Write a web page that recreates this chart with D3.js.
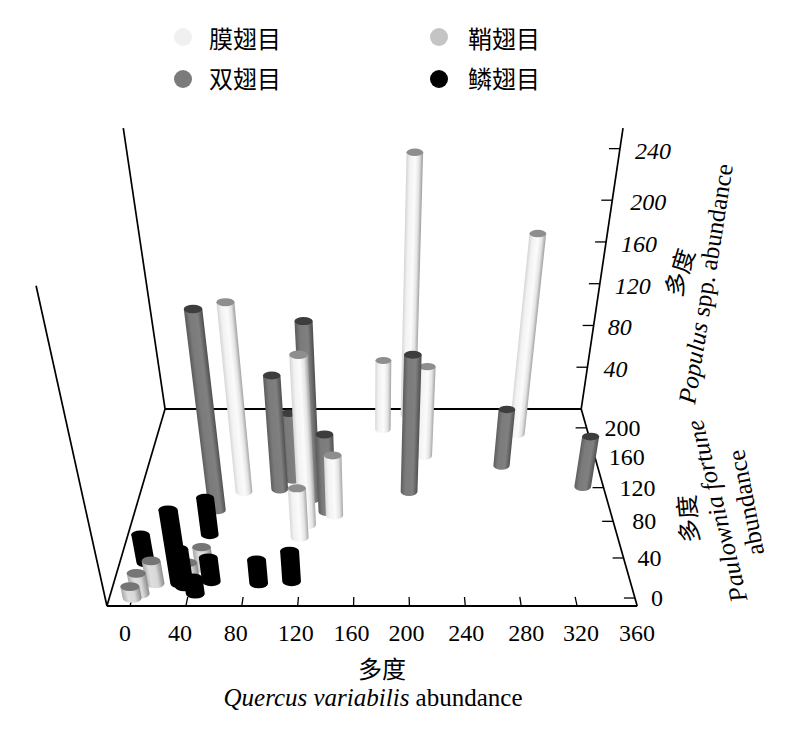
<!DOCTYPE html>
<html lang="zh">
<head>
<meta charset="utf-8">
<script src="https://cdn.jsdelivr.net/npm/d3@7"></script>
<style>
html,body{margin:0;padding:0;background:#fff}
svg{display:block}
text{fill:#000;font-family:"Liberation Serif",serif}
.cjk{font-family:"Noto Sans CJK SC",sans-serif;font-weight:400}
</style>
</head>
<body>
<svg id="c" width="800" height="734" viewBox="0 0 800 734"></svg>
<script>
// ---- data (abundance) ----
const seriesNames = ["膜翅目","鞘翅目","双翅目","鳞翅目"];

const hymX = [68,122,117,143,205,300,182,217];
const hymY = [115,76,62,87,219,191,198,161];
const hymZ = [173,153,44,54,241,189,65,83];

const colX = [14,5,0,48,41];
const colY = [14,4,0,29,11];
const colZ = [20,18,10,19,21];

const dipX = [49,124,97,107,137,203,282,346];
const dipY = [93,106,118,130,91,115,148,121];
const dipZ = [182,162,104,61,70,125,52,46];

const lepX = [3,32,36,45,47,55,90,114];
const lepY = [35,14,11,4,65,16,14,16];
const lepZ = [25,65,33,14,33,21,21,27];

const xTickValues = [0,40,80,120,160,200,240,280,320,360];
const depthTickValues = [0,40,80,120,160,200];
const heightTickValues = [40,80,120,160,200,240];

// ---- layout ----
const xLabelNudge = [-5,-6,-6,-2,-2,-3,1,5,4,4];
const depthLabelNudge = [22,26,31,34,32,36];
const heightLabelNudge = [28,26,33,33,36,33];

const xScale = d3.scaleLinear().domain([0,360]).range([130,633]);
const invDepth = d3.scaleLinear().domain([0,200]).range([.0011013,.0013553]);
const rise = d3.scaleLinear().domain([0,200,240]).range([0,.19,.2369]);
const horizonY = -310, vpX = 377, nadirX = 373, nadirY = 1809, frontSpan = 916;
const xMin = -16.5, xMax = 363, yMin = -7.6, yMax = 228;

function project(x,y,z){
  const u = 1/invDepth(y), s = u/frontSpan;
  const fx = vpX+(xScale(x)-vpX)*s, fy = horizonY+u;
  const f = s*rise(z);
  return [nadirX+(fx-nadirX)*(1+f), nadirY+(fy-nadirY)*(1+f), s, f];
}

const svg = d3.select("#c");
const defs = svg.append("defs");
defs.append("filter").attr("id","soft").attr("x","-40%").attr("y","-10%").attr("width","180%").attr("height","120%")
  .append("feGaussianBlur").attr("stdDeviation",.7);

// ---- floor and walls ----
const line = (a,b,w)=>svg.append("line").attr("x1",a[0]).attr("y1",a[1]).attr("x2",b[0]).attr("y2",b[1])
  .attr("stroke","#000").attr("stroke-width",w);
line(project(xMin,yMax,0),project(xMax,yMax,0),2.1);
line(project(xMin,yMin,0),project(xMax,yMin,0),2.1);
line(project(xMin,yMin,0),project(xMin,yMax,0),1.7);
line(project(xMax,yMin,0),project(xMax,yMax,0),1.7);
line(project(xMin,yMin,0),project(xMin,yMin,265),1.7);
line(project(xMin,yMax,0),project(xMin,yMax,256),1.7);
line(project(xMax,yMax,0),project(xMax,yMax,256),1.7);

// ---- ticks and tick labels ----
xTickValues.forEach((v,i)=>{
  const a = project(v,yMin,0), b = project(v,1,0);
  if(v<360) line(a,b,1.3);
  svg.append("text").attr("x",a[0]+xLabelNudge[i]).attr("y",640.5).attr("text-anchor","middle")
    .attr("font-size",24).text(v);
});
depthTickValues.forEach((v,i)=>{
  const a = project(xMax,v,0);
  line([a[0]-11,a[1]],a,1.3);
  svg.append("text").attr("x",a[0]+depthLabelNudge[i]).attr("y",a[1]+8).attr("text-anchor","middle")
    .attr("font-size",24).text(v);
});
heightTickValues.forEach((v,i)=>{
  const a = project(xMax,yMax,v);
  line([a[0]-11,a[1]],a,1.3);
  svg.append("text").attr("x",a[0]+heightLabelNudge[i]).attr("y",a[1]+10).attr("text-anchor","middle")
    .attr("font-size",24).attr("font-style","italic").text(v);
});

// ---- cylinders ----
const looks = {
  "膜翅目":{stops:[[0,"#d8d8d8"],[.2,"#f2f2f2"],[.55,"#fbfbfb"],[.8,"#e4e4e4"],[1,"#a8a8a8"]],cap:"#8e8e8e"},
  "鞘翅目":{stops:[[0,"#a8a8a8"],[.3,"#dedede"],[.65,"#d8d8d8"],[1,"#8a8a8a"]],cap:"#747474"},
  "双翅目":{stops:[[0,"#5e5e5e"],[.25,"#7a7a7a"],[.7,"#808080"],[1,"#525252"]],cap:"#3c3c3c"},
  "鳞翅目":{stops:[[0,"#000"],[.5,"#050505"],[1,"#000"]],cap:"#000"}
};
const zipped = (name,xs,ys,zs)=>xs.map((x,i)=>({name,x,y:ys[i],z:zs[i]}));
const bars = [].concat(
  zipped("膜翅目",hymX,hymY,hymZ),
  zipped("鞘翅目",colX,colY,colZ),
  zipped("双翅目",dipX,dipY,dipZ),
  zipped("鳞翅目",lepX,lepY,lepZ)
).sort((a,b)=>d3.descending(a.y,b.y));

const barLayer = svg.append("g").attr("filter","url(#soft)");
bars.forEach((d,i)=>{
  const b = project(d.x,d.y,0), t = project(d.x,d.y,d.z);
  const r0 = 9.6*b[2], r1 = r0*(1+t[3]*.5);
  const ry0 = r0*.5, ry1 = r1*.45;
  let ax = t[0]-b[0], ay = t[1]-b[1]; const L = Math.hypot(ax,ay); ax/=L; ay/=L;
  const nx = Math.abs(ay), ny = ay<0 ? ax : -ax;   // points to the right of the bar
  const look = looks[d.name];
  const g = defs.append("linearGradient").attr("id","bar"+i).attr("gradientUnits","userSpaceOnUse")
    .attr("x1",b[0]-nx*r0).attr("y1",b[1]-ny*r0).attr("x2",b[0]+nx*r0).attr("y2",b[1]+ny*r0);
  look.stops.forEach(s=>g.append("stop").attr("offset",s[0]).attr("stop-color",s[1]));
  barLayer.append("path")
    .attr("d",`M${b[0]-r0},${b[1]}L${t[0]-r1},${t[1]}L${t[0]+r1},${t[1]}L${b[0]+r0},${b[1]}A${r0},${ry0} 0 0 1 ${b[0]-r0},${b[1]}Z`)
    .attr("fill",`url(#bar${i})`);
  barLayer.append("ellipse").attr("cx",t[0]).attr("cy",t[1]).attr("rx",r1).attr("ry",ry1).attr("fill",look.cap);
});

// ---- legend ----
const legendAt = {"膜翅目":[183,37,"#f0f0f0",209,48],"鞘翅目":[439,37,"#c4c4c4",468,48],"双翅目":[183,79,"#7b7b7b",209,88],"鳞翅目":[439,79,"#000",468,88]};
seriesNames.forEach(n=>{
  const a = legendAt[n];
  svg.append("circle").attr("cx",a[0]).attr("cy",a[1]).attr("r",9).attr("fill",a[2]);
  svg.append("text").attr("class","cjk").attr("x",a[3]).attr("y",a[4]).attr("font-size",24).text(n);
});

// ---- axis titles ----
function title(x,y,rot,size){
  return svg.append("text").attr("transform",`translate(${x},${y}) rotate(${rot})`).attr("text-anchor","middle").attr("font-size",size);
}
title(382,678,0,24).attr("class","cjk").text("多度");
const qt = title(373,706,0,25);
qt.append("tspan").attr("font-style","italic").text("Quercus variabilis");
qt.append("tspan").text(" abundance");

title(688,275,-73,24).attr("class","cjk").text("多度");
const pt = title(714,285,-81,25);
pt.append("tspan").attr("font-style","italic").text("Populus");
pt.append("tspan").text(" spp. abundance");

title(697,518,-95,24).attr("class","cjk").text("多度");
title(725,509,-104,25).attr("font-style","italic").text("Paulownia fortune");
title(754,501,-101,25).text("abundance");
</script>
</body>
</html>
